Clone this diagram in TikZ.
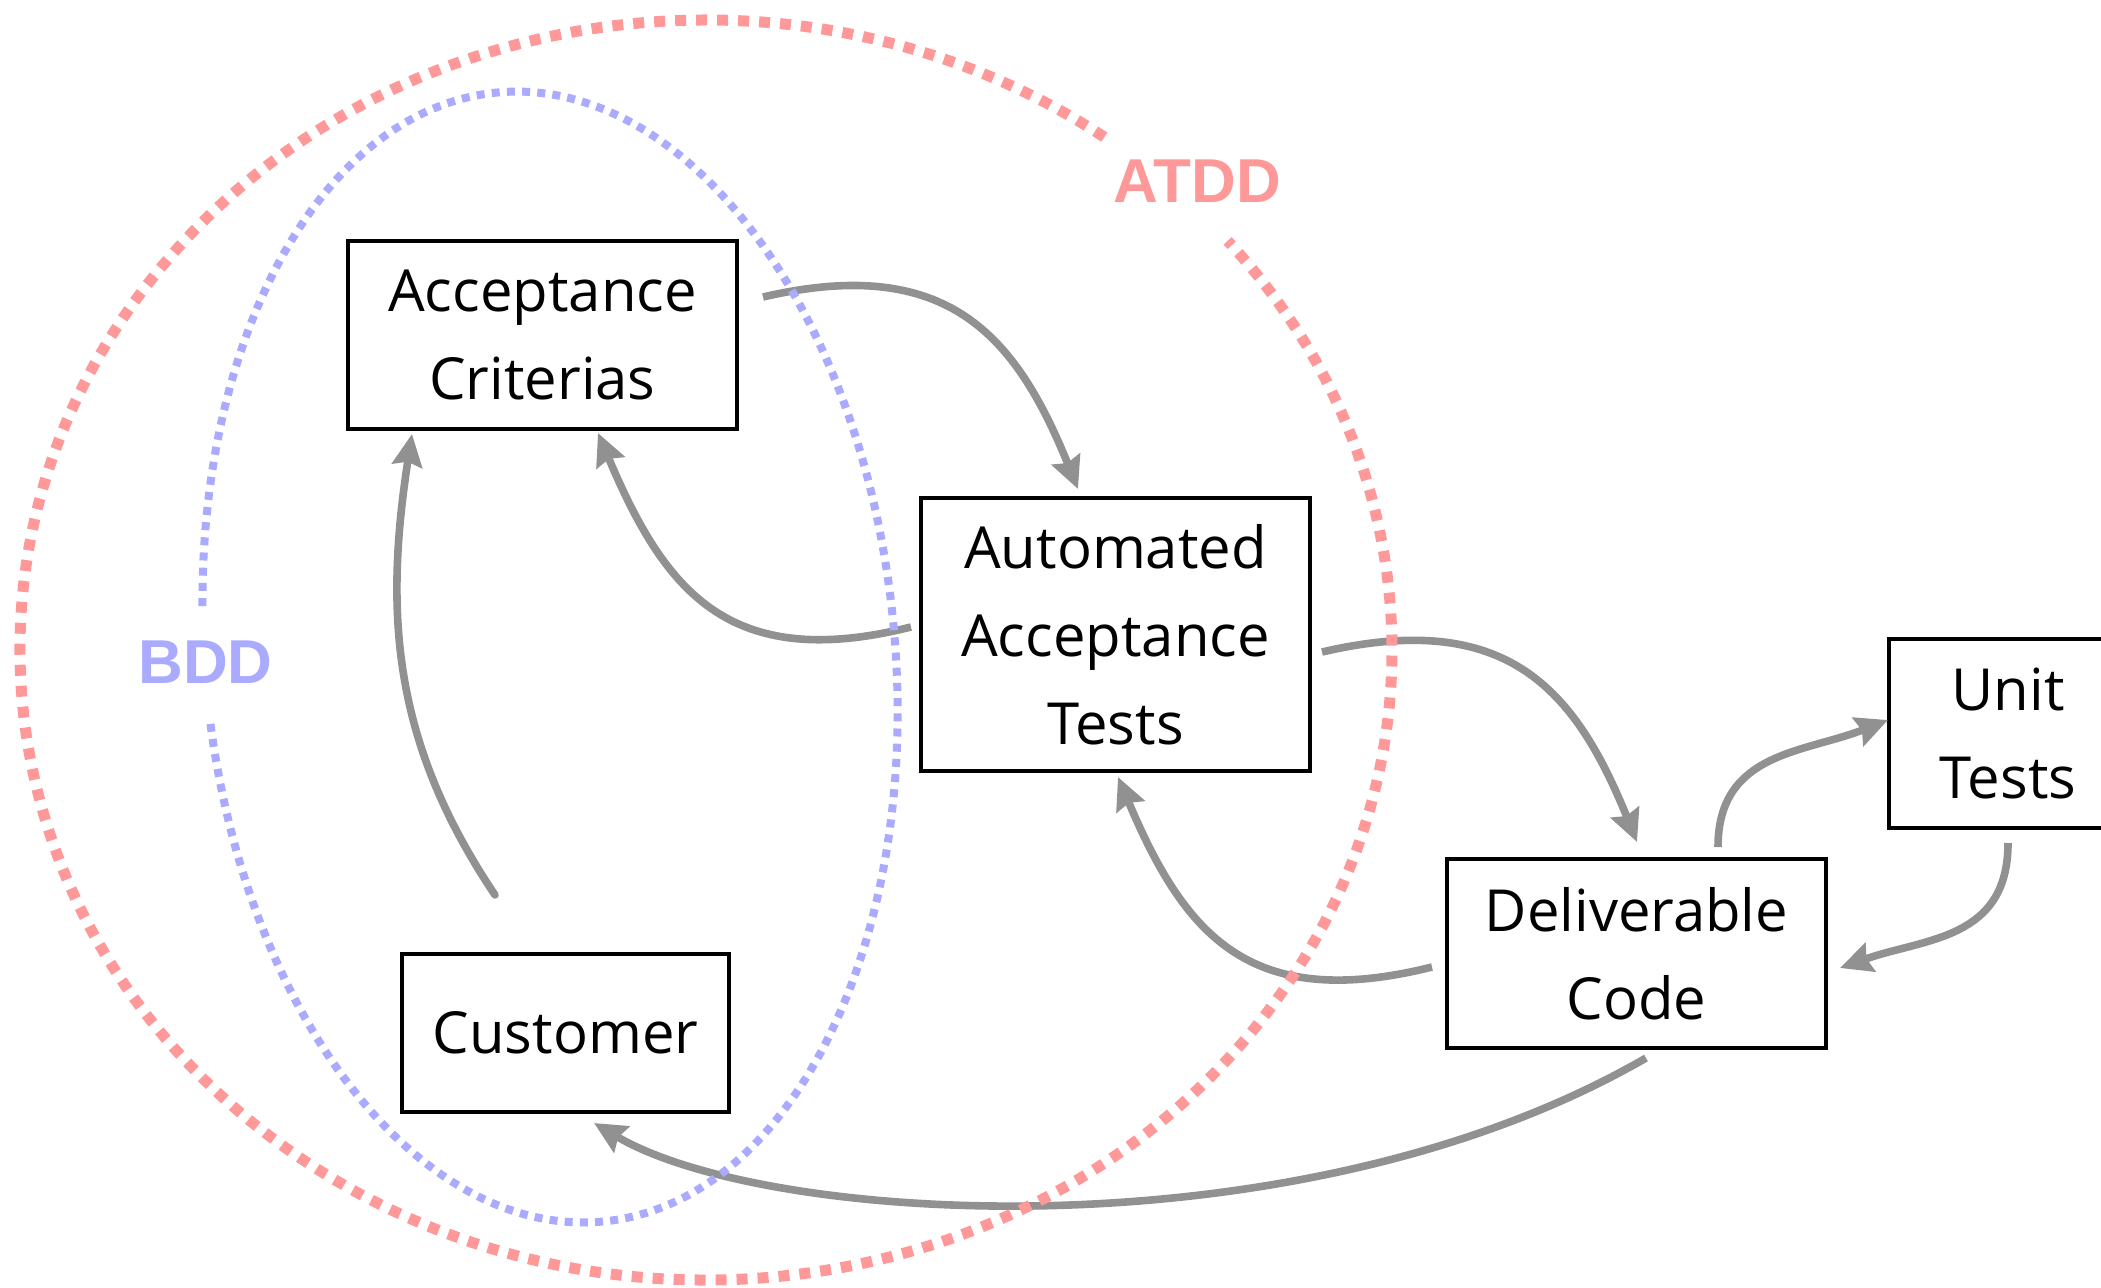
\documentclass[tikz,border=0pt]{standalone}
\usepackage{fontspec}
\setmainfont{Open Sans}
\newfontfamily\labelfont{Liberation Sans}
\usetikzlibrary{arrows.meta}
\definecolor{atddred}{RGB}{255,153,153}
\definecolor{bddblue}{RGB}{170,170,255}
\definecolor{arrowgray}{RGB}{145,145,145}
\begin{document}
\begin{tikzpicture}[x=0.5pt,y=0.5pt,
  box/.style={draw=black, line width=1.7pt, fill=white, align=center, inner sep=0pt, outer sep=0pt,
    font=\fontsize{29}{44}\selectfont},
  flow/.style={draw=arrowgray, line width=3.8pt, -{Stealth[length=16pt,width=15pt,inset=2pt]}},
  atddline/.style={draw=atddred, line width=5.5pt, dash pattern=on 5.5pt off 5pt},
  bddline/.style={draw=bddblue, line width=4pt, dash pattern=on 4pt off 3.6pt},
  biglabel/.style={font=\labelfont\bfseries\fontsize{31}{31}\selectfont, inner sep=0pt}
]
\useasboundingbox (0,0) rectangle (2101,-1287);
\clip (0,0) rectangle (2101,-1287);

% boxes
\node[box, minimum width=194.5pt, minimum height=94pt] (ac) at (542.5,-335) {Acceptance\\Criterias};
\node[box, minimum width=194.5pt, minimum height=136.5pt] (aat) at (1115.5,-634.5) {Automated\\Acceptance\\Tests};
\node[box, minimum width=119pt, minimum height=94.5pt] (ut) at (2008,-733.5) {Unit\\Tests};
\node[box, minimum width=189.5pt, minimum height=94.5pt] (dc) at (1636.5,-953.5) {Deliverable\\Code};
\node[box, minimum width=163.5pt, minimum height=79pt] (cu) at (565.5,-1033) {Customer};

% connectors
\draw[flow] ([shift={(26,38)}]ac.east) .. controls +(185,43) and +(-62,153) .. ([shift={(-37.5,9)}]aat.north);
\draw[flow] ([shift={(-10,7.5)}]aat.west) .. controls +(-184,-46) and +(66,-156) .. ([shift={(55.5,-4)}]ac.south);
\draw[flow, line cap=round] ([shift={(-70.5,59)}]cu.north) .. controls +(-102,152) and +(-28,-181) .. ([shift={(-130.5,-5)}]ac.south);
\draw[flow] ([shift={(12,-17.5)}]aat.east) .. controls +(185,43) and +(-62,153) .. ([shift={(0.5,17)}]dc.north);
\draw[flow] ([shift={(-15,-13.5)}]dc.west) .. controls +(-184,-46) and +(66,-156) .. ([shift={(2.5,-6)}]aat.south);
\draw[flow] ([shift={(81.5,12)}]dc.north) .. controls +(0,95) and +(-84,-33) .. ([shift={(-1,13.5)}]ut.west);
\draw[flow] ([shift={(0,-15)}]ut.south) .. controls +(0,-97) and +(85,30) .. ([shift={(14,-14.5)}]dc.east);
\draw[flow] ([shift={(9.5,-10)}]dc.south) .. controls +(-346,-200) and +(172,-102) .. ([shift={(28.5,-11)}]cu.south);

% dotted ellipses
\draw[atddline] (706,-650) ++(54.5:686 and 630) arc[start angle=54.5, end angle=400.5, x radius=686, y radius=630];
\begin{scope}[shift={(550,-657)}, rotate=5.4]
  \draw[bddline] (183.5:345 and 567) arc[start angle=183.5, end angle=532.1, x radius=345, y radius=567];
\end{scope}

% labels
\node[biglabel, text=atddred] (atdd) at (1197.5,-181) {ATDD};
\node[biglabel, text=bddblue] (bdd) at (205.5,-662) {BDD};
\end{tikzpicture}
\end{document}
